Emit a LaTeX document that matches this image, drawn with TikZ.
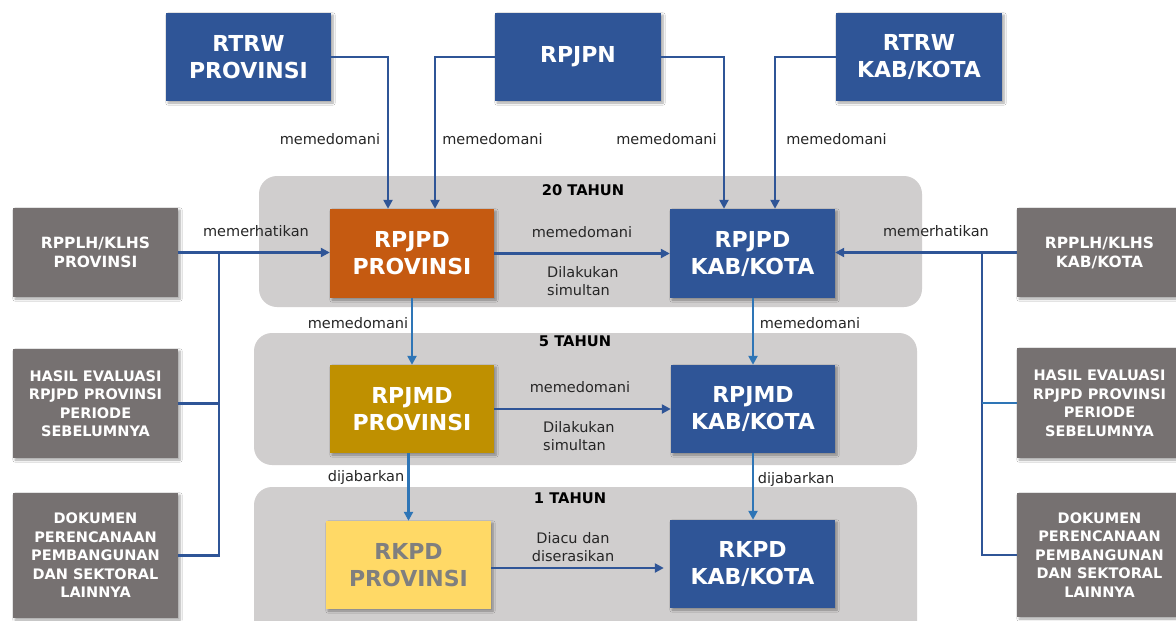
\documentclass[tikz,border=0pt]{standalone}
\usepackage{fontspec}
\setmainfont{DejaVu Sans}
\usetikzlibrary{arrows.meta,shadows.blur}
\definecolor{boxblue}{HTML}{2F5597}
\definecolor{lineblue}{HTML}{2F5597}
\definecolor{vblue}{HTML}{2E75B6}
\definecolor{boxgray}{HTML}{767171}
\definecolor{panelgray}{HTML}{D0CECE}
\definecolor{boxorange}{HTML}{C55A11}
\definecolor{boxgold}{HTML}{BF9000}
\definecolor{boxyellow}{HTML}{FFD966}
\definecolor{ytext}{HTML}{7F7F7F}
\definecolor{lbltext}{HTML}{262626}
\begin{document}
\begin{tikzpicture}[x=1pt,y=-1pt,
  panel/.style={fill=panelgray, draw=none, rounded corners=18pt, inner sep=0pt},
  mainbox/.style={draw=none, inner sep=0pt, align=center, text=white,
    font=\bfseries\fontsize{22}{27}\selectfont,
    blur shadow={shadow xshift=2pt, shadow yshift=-2pt, shadow blur steps=6, shadow opacity=35}},
  bluebox/.style={mainbox, fill=boxblue},
  graybox/.style={draw=none, inner sep=0pt, align=center, text=white, fill=boxgray,
    font=\bfseries\fontsize{14.5}{18.5}\selectfont, minimum width=165,
    blur shadow={shadow xshift=2pt, shadow yshift=-2pt, shadow blur steps=6, shadow opacity=35}},
  bigtext/.style={font=\bfseries\fontsize{15.5}{19}\selectfont},
  lbl/.style={inner sep=0pt, text=lbltext, font=\fontsize{14.5}{18}\selectfont},
  ttl/.style={inner sep=0pt, text=black, font=\bfseries\fontsize{14.7}{18}\selectfont},
  arr/.style={draw=lineblue, line width=2.8pt, -{Triangle[length=9pt,width=9pt]}},
  varr/.style={draw=vblue, line width=2.8pt, -{Triangle[length=9pt,width=9pt]}},
  ln/.style={draw=lineblue, line width=2.8pt}
]
\useasboundingbox (0,0) rectangle (1176,621);
\fill[white] (0,0) rectangle (1176,621);

% panels
\node[panel, minimum width=663, minimum height=131] (p20) at (590.5,241.5) {};
\node[panel, minimum width=663, minimum height=132] (p5) at (585.5,399) {};
\node[panel, minimum width=663, minimum height=160] (p1) at (585.5,567) {};
\node[ttl] (t20) at (583,190) {20 TAHUN};
\node[ttl] (t5) at (575,341) {5 TAHUN};
\node[ttl] (t1) at (570,498) {1 TAHUN};

% top boxes
\node[bluebox, minimum width=165, minimum height=88] (rtrwp) at (248.5,57) {RTRW\\PROVINSI};
\node[bluebox, minimum width=166, minimum height=88] (rpjpn) at (578,57) {RPJPN};
\node[bluebox, minimum width=166, minimum height=88] (rtrwk) at (919,57) {RTRW\\KAB/KOTA};

% central boxes
\node[mainbox, fill=boxorange, minimum width=164, minimum height=89] (rpjpdp) at (412,253.5) {RPJPD\\PROVINSI};
\node[bluebox, minimum width=165, minimum height=89] (rpjpdk) at (752.5,253.5) {RPJPD\\KAB/KOTA};
\node[mainbox, fill=boxgold, minimum width=164, minimum height=88] (rpjmdp) at (412,409) {RPJMD\\PROVINSI};
\node[bluebox, minimum width=164, minimum height=88] (rpjmdk) at (753,409) {RPJMD\\KAB/KOTA};
\node[mainbox, fill=boxyellow, text=ytext, minimum width=165, minimum height=88] (rkpdp) at (408.5,565) {RKPD\\PROVINSI};
\node[bluebox, minimum width=165, minimum height=88] (rkpdk) at (752.5,564) {RKPD\\KAB/KOTA};

% gray boxes left
\node[graybox, bigtext, minimum height=89] (rpplhp) at (95.5,252.5) {RPPLH/KLHS\\PROVINSI};
\node[graybox, minimum height=109] (hasilp) at (95.5,403.5) {HASIL EVALUASI\\RPJPD PROVINSI\\PERIODE\\SEBELUMNYA};
\node[graybox, minimum height=125] (dokp) at (95.5,555.5) {DOKUMEN\\PERENCANAAN\\PEMBANGUNAN\\DAN SEKTORAL\\LAINNYA};
% gray boxes right
\node[graybox, bigtext, minimum height=89] (rpplhk) at (1099.5,252.5) {RPPLH/KLHS\\KAB/KOTA};
\node[graybox, minimum height=110] (hasilk) at (1099.5,403) {HASIL EVALUASI\\RPJPD PROVINSI\\PERIODE\\SEBELUMNYA};
\node[graybox, minimum height=124] (dokk) at (1099.5,555) {DOKUMEN\\PERENCANAAN\\PEMBANGUNAN\\DAN SEKTORAL\\LAINNYA};

% top connectors
\draw[arr] (rtrwp.east) -| ([xshift=-24pt]rpjpdp.north);
\draw[arr] (rpjpn.west) -| ([xshift=23pt]rpjpdp.north);
\draw[arr] (rpjpn.east) -| ([xshift=-28.5pt]rpjpdk.north);
\draw[arr] (rtrwk.west) -| ([xshift=22.5pt]rpjpdk.north);
\node[lbl] (m1) at (330,139) {memedomani};
\node[lbl] (m2) at (492.5,139) {memedomani};
\node[lbl] (m3) at (666.5,139) {memedomani};
\node[lbl] (m4) at (836.5,139) {memedomani};

% left side
\coordinate (jl) at (219,252.5);
\draw[arr] (rpplhp.east) -- (rpplhp.east -| rpjpdp.west);
\draw[ln] (dokp.east) -| (jl);
\draw[ln] (hasilp.east) -- (hasilp.east -| jl);
\node[lbl] (mh1) at (256,231) {memerhatikan};

% right side
\coordinate (jr) at (982,252.5);
\draw[arr] (rpplhk.west) -- (rpplhk.west -| rpjpdk.east);
\draw[ln] (dokk.west) -| (jr);
\draw[ln, draw=vblue] (hasilk.west) -- (hasilk.west -| jr);
\node[lbl] (mh2) at (936,231) {memerhatikan};

% horizontal between columns
\draw[arr] (rpjpdp.east) -- (rpjpdk.west);
\node[lbl] (h1) at (582,232) {memedomani};
\node[lbl, align=left, anchor=west] (h1b) at (547,281) {Dilakukan\\simultan};
\draw[arr] (rpjmdp.east) -- (rpjmdk.west);
\node[lbl] (h2) at (580,387) {memedomani};
\node[lbl, align=left, anchor=west] (h2b) at (543,436.5) {Dilakukan\\simultan};
\draw[arr, shorten >=6pt] ([yshift=-3pt]rkpdp.east) -- ([yshift=-3pt]rkpdp.east -| rkpdk.west);
\node[lbl, align=center] (h3) at (573,547.5) {Diacu dan\\diserasikan};

% vertical
\draw[varr] (rpjpdp.south) -- (rpjmdp.north);
\draw[varr] (rpjmdp.south -| rkpdp.north) -- (rkpdp.north);
\draw[varr] (rpjpdk.south -| rpjmdk.north) -- (rpjmdk.north);
\draw[varr] (rpjmdk.south) -- (rpjmdk.south |- rkpdk.north);
\node[lbl] (v1) at (358,323) {memedomani};
\node[lbl] (v2) at (810,323) {memedomani};
\node[lbl] (v3) at (366,477) {dijabarkan};
\node[lbl] (v4) at (796,479) {dijabarkan};
\end{tikzpicture}
\end{document}
